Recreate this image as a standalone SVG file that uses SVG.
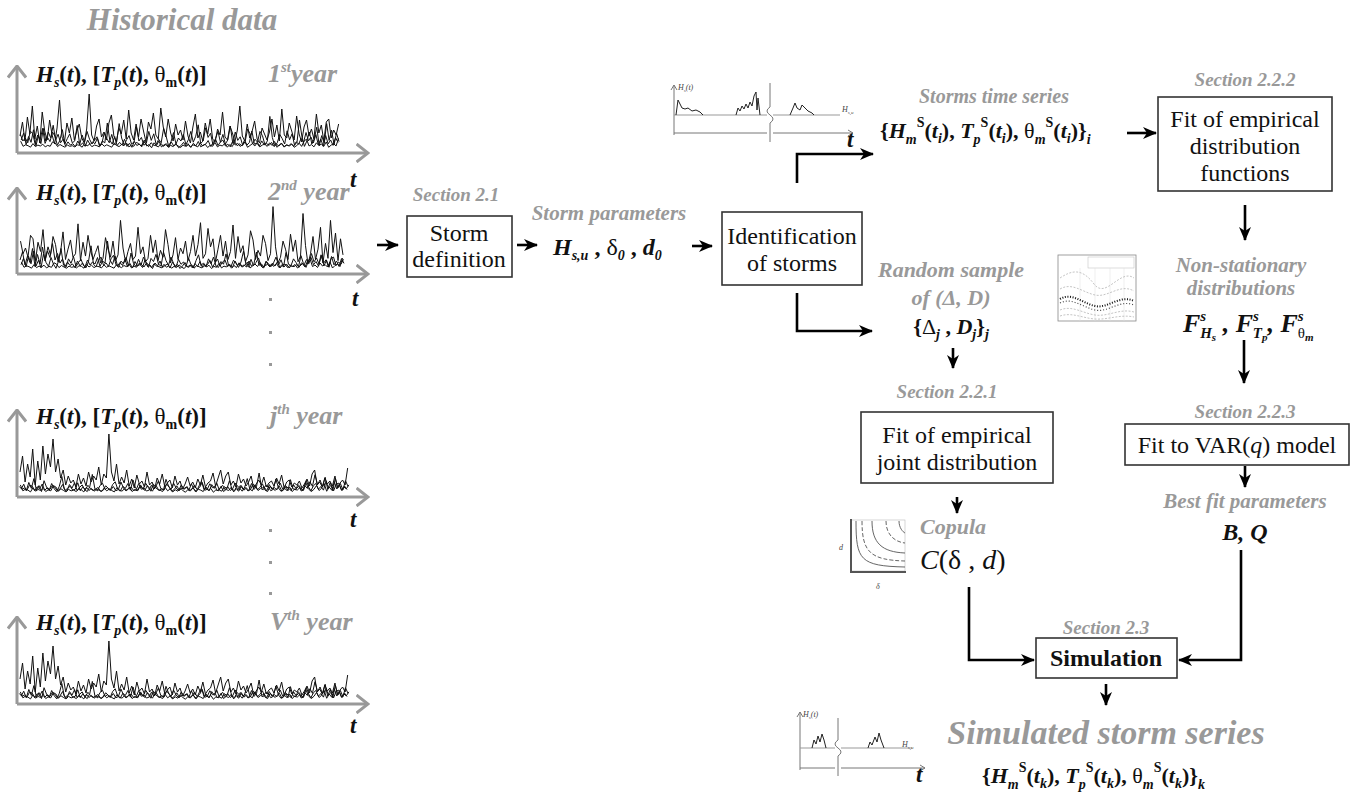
<svg xmlns="http://www.w3.org/2000/svg" width="1363" height="795" viewBox="0 0 1363 795">
<style>
.s{font-family:"Liberation Serif",serif;}
.g{fill:#999;font-weight:bold;font-style:italic;}
.sec{font-size:19px;text-anchor:middle;}
.cap{font-size:21px;}
.box{fill:#fff;stroke:#333;stroke-width:1.6;}
.bt{font-size:24px;fill:#111;text-anchor:middle;}
.conn{fill:none;stroke:#000;stroke-width:2.6;marker-end:url(#ah);}
.ax{fill:none;stroke:#999;stroke-width:3;marker-end:url(#gch);}
.sig{fill:none;stroke:#111;stroke-width:1;vector-effect:non-scaling-stroke;stroke-linejoin:round;}
.lab{font-size:23px;font-weight:bold;fill:#111;}
.yr{font-size:26px;}
.it{font-style:italic;}
.fx{font-size:22px;font-weight:bold;fill:#111;}
.sm{font-size:14px;}
.dot{fill:#999;}
.tiny{font-size:8px;fill:#444;font-style:italic;}
.thin{fill:none;stroke:#777;stroke-width:1;}
.bump{fill:none;stroke:#222;stroke-width:1;}
.mc{fill:none;stroke:#aaa;stroke-width:0.7;stroke-dasharray:2 1.5;}
.cc{fill:none;stroke:#555;stroke-width:0.9;}
</style>
<defs>
<marker id="ah" viewBox="0 0 14 12" refX="13" refY="6" markerWidth="14" markerHeight="12" markerUnits="userSpaceOnUse" orient="auto"><path d="M0,0 L14,6 L0,12 L4,6 Z" fill="#000"/></marker>
<marker id="gch" viewBox="0 0 14 20" refX="12.5" refY="10" markerWidth="14" markerHeight="20" markerUnits="userSpaceOnUse" orient="auto"><path d="M1,1 L12.5,10 L1,19" fill="none" stroke="#999" stroke-width="3"/></marker>
<polyline id="sA" class="sig" points="0,-14 1,-28 2,-9 3,-33 4,-16 5,-44 6,-11 7,-24 8,-7 9,-38 10,-19 11,-10 12,-30 13,-15 14,-6 15,-22 16,-50 17,-13 18,-8 19,-27 20,-17 21,-32 22,-10 23,-19 24,-26 25,-12 26,-7 27,-21 28,-56 29,-15 30,-9 31,-24 32,-31 33,-13 34,-18 35,-10 36,-27 37,-35 38,-14 39,-8 40,-22 41,-16 42,-30 43,-11 44,-40 45,-17 46,-10 47,-26 48,-13 49,-31 50,-19 51,-8 52,-28 53,-21 54,-37 55,-15 56,-11 57,-42 58,-23 59,-13 60,-31 61,-17 62,-9 63,-26 64,-15 65,-20 66,-10 67,-29 68,-14 69,-7 70,-23 71,-36 72,-12 73,-18 74,-9 75,-27 76,-16 77,-31 78,-11 79,-8 80,-21 81,-15 82,-38 83,-13 84,-10 85,-24 86,-17 87,-8 88,-20 89,-44 90,-14 91,-9 92,-26 93,-12 94,-19 95,-29 96,-11 97,-7 98,-22 99,-16 100,-10 101,-18 102,-31 103,-13 104,-25 105,-9 106,-41 107,-15 108,-12 109,-27 110,-19 111,-10 112,-34 113,-16 114,-8 115,-23 116,-30 117,-14 118,-21 119,-11 120,-36 121,-17 122,-25 123,-9 124,-28 125,-31 126,-12 127,-20 128,-15 129,-26"/>
<polyline id="sB" class="sig" points="0,-22 1,-38 2,-12 3,-30 4,-17 5,-45 6,-9 7,-33 8,-14 9,-48 10,-20 11,-40 12,-27 13,-55 14,-22 15,-35 16,-16 17,-24 18,-9 19,-18 20,-11 21,-14 22,-7 23,-20 24,-10 25,-16 26,-8 27,-22 28,-12 29,-18 30,-14 31,-27 32,-9 33,-20 34,-16 35,-60 36,-22 37,-13 38,-30 39,-10 40,-17 41,-11 42,-24 43,-8 44,-15 45,-6 46,-19 47,-10 48,-13 49,-7 50,-22 51,-9 52,-12 53,-5 54,-16 55,-10 56,-20 57,-7 58,-11 59,-14 60,-6 61,-18 62,-9 63,-13 64,-5 65,-10 66,-17 67,-8 68,-12 69,-6 70,-15 71,-9 72,-19 73,-7 74,-11 75,-13 76,-21 77,-8 78,-16 79,-24 80,-10 81,-18 82,-22 83,-9 84,-13 85,-7 86,-20 87,-11 88,-15 89,-8 90,-12 91,-18 92,-6 93,-10 94,-14 95,-9 96,-17 97,-7 98,-11 99,-13 100,-8 101,-16 102,-10 103,-19 104,-6 105,-12 106,-14 107,-7 108,-11 109,-9 110,-13 111,-6 112,-10 113,-15 114,-8 115,-20 116,-24 117,-9 118,-12 119,-7 120,-16 121,-10 122,-13 123,-8 124,-18 125,-6 126,-11 127,-14 128,-9 129,-26"/>
</defs>

<text id="title" x="182" y="30" class="s g" font-size="31" text-anchor="middle">Historical data</text>

<g id="panel-1">
<path class="ax" d="M17,153 L17,66"/>
<path class="ax" d="M17,153 L368,153"/>
<use href="#sA" transform="translate(20,150) scale(2.47,1)"/>
<use href="#sA" transform="translate(339,150) scale(-2.47,0.6)"/>
<use href="#sB" transform="translate(21.2,150) scale(2.46,0.45)"/>
<use href="#sB" transform="translate(338,149) scale(-2.46,0.3)"/>
<text x="36" y="82" class="s lab"><tspan class="it">H</tspan><tspan class="it sm" dy="5">s</tspan><tspan dy="-5">(</tspan><tspan class="it">t</tspan>), [<tspan class="it">T</tspan><tspan class="it sm" dy="5">p</tspan><tspan dy="-5">(</tspan><tspan class="it">t</tspan>), <tspan font-weight="normal">θ</tspan><tspan class="sm" dy="5">m</tspan><tspan dy="-5">(</tspan><tspan class="it">t</tspan>)]</text>
<text x="268" y="82" class="s g yr" font-style="normal">1<tspan class="it" font-size="15" dy="-10">st</tspan><tspan class="it" dy="10">year</tspan></text>
<text x="350" y="187" class="s lab it" font-size="26">t</text>
</g>

<g id="panel-2">
<path class="ax" d="M17,274 L17,188"/>
<path class="ax" d="M17,274 L368,274"/>
<use href="#sA" transform="translate(343,271) scale(-2.5,1.15)"/>
<use href="#sB" transform="translate(20,271) scale(2.5,0.5)"/>
<use href="#sA" transform="translate(21,271) scale(2.5,0.45)"/>
<use href="#sB" transform="translate(344,270) scale(-2.5,0.3)"/>
<text x="36" y="200" class="s lab"><tspan class="it">H</tspan><tspan class="it sm" dy="5">s</tspan><tspan dy="-5">(</tspan><tspan class="it">t</tspan>), [<tspan class="it">T</tspan><tspan class="it sm" dy="5">p</tspan><tspan dy="-5">(</tspan><tspan class="it">t</tspan>), <tspan font-weight="normal">θ</tspan><tspan class="sm" dy="5">m</tspan><tspan dy="-5">(</tspan><tspan class="it">t</tspan>)]</text>
<text x="268" y="200" class="s g yr" font-style="normal">2<tspan class="it" font-size="15" dy="-10">nd</tspan><tspan class="it" dy="10"> year</tspan></text>
<text x="352" y="306" class="s lab it" font-size="26">t</text>
</g>

<g id="panel-j">
<path class="ax" d="M17,497 L17,410"/>
<path class="ax" d="M17,497 L368,497"/>
<use href="#sB" transform="translate(20,494) scale(2.54,1)"/>
<use href="#sB" transform="translate(348,494) scale(-2.54,0.35)"/>
<use href="#sA" transform="translate(21.2,494) scale(2.54,0.35)"/>
<use href="#sA" transform="translate(347,493) scale(-2.54,0.25)"/>
<text x="36" y="424" class="s lab"><tspan class="it">H</tspan><tspan class="it sm" dy="5">s</tspan><tspan dy="-5">(</tspan><tspan class="it">t</tspan>), [<tspan class="it">T</tspan><tspan class="it sm" dy="5">p</tspan><tspan dy="-5">(</tspan><tspan class="it">t</tspan>), <tspan font-weight="normal">θ</tspan><tspan class="sm" dy="5">m</tspan><tspan dy="-5">(</tspan><tspan class="it">t</tspan>)]</text>
<text x="270" y="424" class="s g yr">j<tspan font-size="15" dy="-10">th</tspan><tspan dy="10"> year</tspan></text>
<text x="350" y="527" class="s lab it" font-size="26">t</text>
</g>

<g id="panel-V">
<path class="ax" d="M17,704 L17,617"/>
<path class="ax" d="M17,704 L368,704"/>
<use href="#sB" transform="translate(20,701) scale(2.54,1)"/>
<use href="#sB" transform="translate(348,701) scale(-2.54,0.35)"/>
<use href="#sA" transform="translate(21.2,701) scale(2.54,0.35)"/>
<use href="#sA" transform="translate(347,700) scale(-2.54,0.25)"/>
<text x="36" y="630" class="s lab"><tspan class="it">H</tspan><tspan class="it sm" dy="5">s</tspan><tspan dy="-5">(</tspan><tspan class="it">t</tspan>), [<tspan class="it">T</tspan><tspan class="it sm" dy="5">p</tspan><tspan dy="-5">(</tspan><tspan class="it">t</tspan>), <tspan font-weight="normal">θ</tspan><tspan class="sm" dy="5">m</tspan><tspan dy="-5">(</tspan><tspan class="it">t</tspan>)]</text>
<text x="270" y="630" class="s g yr">V<tspan font-size="15" dy="-10">th</tspan><tspan dy="10"> year</tspan></text>
<text x="350" y="733" class="s lab it" font-size="26">t</text>
</g>

<g id="ellipsis-dots">
<rect class="dot" x="269" y="298" width="3" height="3"/>
<rect class="dot" x="269" y="331" width="3" height="3"/>
<rect class="dot" x="269" y="363" width="3" height="3"/>
<rect class="dot" x="269" y="529" width="3" height="3"/>
<rect class="dot" x="269" y="561" width="3" height="3"/>
<rect class="dot" x="269" y="592" width="3" height="3"/>
</g>

<g id="storm-definition">
<text x="456" y="201" class="s g sec">Section 2.1</text>
<rect class="box" x="407" y="216" width="105" height="61"/>
<text x="459" y="241" class="s bt">Storm</text>
<text x="459" y="267" class="s bt">definition</text>
</g>

<g id="storm-parameters">
<text x="609" y="220" class="s g cap" text-anchor="middle">Storm parameters</text>
<text x="553" y="255" class="s" font-size="24" font-weight="bold" fill="#111"><tspan class="it">H</tspan><tspan class="it sm" dy="5">s,u</tspan><tspan dy="-5"> , </tspan><tspan font-weight="normal">δ</tspan><tspan class="it sm" dy="5">0</tspan><tspan dy="-5"> , </tspan><tspan class="it">d</tspan><tspan class="it sm" dy="5">0</tspan></text>
</g>

<g id="identification">
<rect class="box" x="722" y="212" width="140" height="73"/>
<text x="792" y="244" class="s bt">Identification</text>
<text x="792" y="271" class="s bt">of storms</text>
</g>

<g id="chart-storms">
<path class="thin" d="M674,135 L674,85 M671,90 L674,85 L677,90"/>
<path class="thin" d="M674,133 L767,133 M773,133 L853,133 M848,130 L853,133 L848,136"/>
<path d="M674,115 L767,115 M773,115 L840,115" fill="none" stroke="#999" stroke-width="1"/>
<path class="thin" d="M770,83 L770,107 Q764,111 770,115 Q776,119 770,123 L770,142"/>
<path class="bump" d="M676,115 L678,100 L680,104 L682,108 L685,109 L688,108 L692,111 L696,110 L700,112 L703,115"/>
<path class="bump" d="M736,115 L738,108 L740,111 L742,106 L744,109 L746,104 L748,108 L750,102 L752,106 L754,96 L756,92 L757,110 L758,98 L760,115"/>
<path class="bump" d="M790,115 L793,108 L795,103 L797,108 L800,110 L802,105 L805,108 L808,111 L812,113 L814,115"/>
<text x="678" y="90" class="s tiny">H<tspan font-size="5" dy="2">s</tspan><tspan dy="-2">(t)</tspan></text>
<text x="842" y="112" class="s tiny">H<tspan font-size="5" dy="2">s,u</tspan></text>
<text x="847" y="147" class="s lab it" font-size="13">t</text>
</g>

<g id="storms-time-series">
<text x="994" y="103" class="s g" font-size="20" text-anchor="middle">Storms time series</text>
<text x="880" y="138" class="s fx">{<tspan class="it">H</tspan><tspan class="it sm" dy="6">m</tspan><tspan class="sm" dy="-17">S</tspan><tspan dy="11">(</tspan><tspan class="it">t</tspan><tspan class="it sm" dy="5">i</tspan><tspan dy="-5">), </tspan><tspan class="it">T</tspan><tspan class="it sm" dy="6">p</tspan><tspan class="sm" dy="-17">S</tspan><tspan dy="11">(</tspan><tspan class="it">t</tspan><tspan class="it sm" dy="5">i</tspan><tspan dy="-5">), </tspan><tspan font-weight="normal">θ</tspan><tspan class="it sm" dy="6">m</tspan><tspan class="sm" dy="-17">S</tspan><tspan dy="11">(</tspan><tspan class="it">t</tspan><tspan class="it sm" dy="5">i</tspan><tspan dy="-5">)}</tspan><tspan class="it sm" dy="6">i</tspan></text>
</g>

<g id="fit-empirical-distribution">
<text x="1245" y="86" class="s g sec">Section 2.2.2</text>
<rect class="box" x="1158" y="97" width="174" height="94"/>
<text x="1245" y="127" class="s bt">Fit of empirical</text>
<text x="1245" y="154" class="s bt">distribution</text>
<text x="1245" y="181" class="s bt">functions</text>
</g>

<g id="chart-nonstationary">
<rect x="1058" y="255" width="78" height="66" fill="#fff" stroke="#888" stroke-width="0.8"/>
<rect x="1088" y="257" width="46" height="11" fill="none" stroke="#bbb" stroke-width="0.5"/>
<path d="M1080,268 L1080,321 M1095,268 L1095,321 M1110,268 L1110,321 M1124,268 L1124,321" stroke="#ddd" stroke-width="0.5"/>
<path class="mc" d="M1060,278 C1072,270 1082,268 1094,284 S1120,268 1134,278"/>
<path class="mc" d="M1060,289 C1072,282 1082,292 1095,295 S1120,283 1134,291"/>
<path d="M1060,299 C1072,292 1082,303 1095,306 S1120,294 1134,301" fill="none" stroke="#111" stroke-width="2" stroke-dasharray="1 1.6"/>
<path d="M1060,303 C1072,297 1082,307 1095,310 S1120,299 1134,305" fill="none" stroke="#444" stroke-width="1.2" stroke-dasharray="1 2"/>
<path class="mc" d="M1060,310 C1072,305 1082,313 1095,315 S1120,308 1134,312"/>
<path class="mc" d="M1060,316 C1072,312 1082,318 1095,319 S1120,314 1134,317"/>
</g>

<g id="nonstationary-distributions">
<text x="1241" y="272" class="s g cap" text-anchor="middle">Non-stationary</text>
<text x="1241" y="295" class="s g cap" text-anchor="middle">distributions</text>
<text x="1183" y="332" class="s" font-size="26" font-weight="bold" font-style="italic" fill="#111">F<tspan font-size="15" dy="-11">s</tspan><tspan font-size="15" dx="-6" dy="17">H</tspan><tspan font-size="11" dy="3">s</tspan><tspan dy="-9"> , F</tspan><tspan font-size="15" dy="-11">s</tspan><tspan font-size="15" dx="-6" dy="17">T</tspan><tspan font-size="11" dy="3">p</tspan><tspan dy="-9">, F</tspan><tspan font-size="15" dy="-11">s</tspan><tspan font-size="15" font-style="normal" font-weight="normal" dx="-6" dy="17">θ</tspan><tspan font-size="11" dy="3">m</tspan></text>
</g>

<g id="random-sample">
<text x="951" y="277" class="s g" font-size="22" text-anchor="middle">Random sample</text>
<text x="951" y="305" class="s g" font-size="22" text-anchor="middle">of (Δ, D)</text>
<text x="951" y="334" class="s fx" font-size="23" text-anchor="middle">{<tspan font-weight="normal">Δ</tspan><tspan class="it sm" dy="5">j</tspan><tspan dy="-5"> , </tspan><tspan class="it">D</tspan><tspan class="it sm" dy="5">j</tspan><tspan dy="-5">}</tspan><tspan class="it sm" dy="5">j</tspan></text>
</g>

<g id="fit-joint-distribution">
<text x="947" y="398" class="s g sec">Section 2.2.1</text>
<rect class="box" x="861" y="412" width="192" height="71"/>
<text x="957" y="443" class="s bt">Fit of empirical</text>
<text x="957" y="470" class="s bt">joint distribution</text>
</g>

<g id="chart-copula">
<rect x="851" y="520" width="54" height="51" fill="#fff" stroke="#bbb" stroke-width="0.6"/>
<path d="M851,519 L851,572 L906,572" fill="none" stroke="#555" stroke-width="2"/>
<path class="cc" d="M856,521 C856,560 860,566 905,567"/>
<path class="cc" d="M862,521 C862,552 870,560 905,561" stroke-dasharray="4 2"/>
<path class="cc" d="M872,521 C872,543 882,552 905,553"/>
<path class="cc" d="M886,521 C886,535 895,542 905,543" stroke-dasharray="4 2"/>
<path class="cc" d="M899,521 C899,528 903,532 905,533"/>
<text x="839" y="550" class="s tiny">d</text>
<text x="876" y="589" class="s tiny">δ</text>
</g>

<g id="copula">
<text x="920" y="534" class="s g" font-size="22">Copula</text>
<text x="920" y="569" class="s" font-size="28" fill="#111"><tspan class="it">C</tspan>(δ , <tspan class="it">d</tspan>)</text>
</g>

<g id="fit-var">
<text x="1245" y="418" class="s g sec">Section 2.2.3</text>
<rect class="box" x="1125" y="424" width="224" height="41"/>
<text x="1237" y="453" class="s bt">Fit to VAR(<tspan class="it">q</tspan>) model</text>
</g>

<g id="best-fit">
<text x="1245" y="508" class="s g" font-size="21" text-anchor="middle">Best fit parameters</text>
<text x="1245" y="540" class="s" font-size="24" font-weight="bold" font-style="italic" fill="#111" text-anchor="middle">B, Q</text>
</g>

<g id="simulation">
<text x="1106" y="634" class="s g sec">Section 2.3</text>
<rect class="box" x="1036" y="638" width="141" height="40"/>
<text x="1106" y="666" class="s bt" font-weight="bold">Simulation</text>
</g>

<g id="chart-simulated">
<path class="thin" d="M800,770 L800,712 M797,717 L800,712 L803,717"/>
<path class="thin" d="M800,768 L835,768 M841,768 L925,768 M920,765 L925,768 L920,771"/>
<path d="M800,748 L835,748 M841,748 L912,748" fill="none" stroke="#999" stroke-width="1"/>
<path class="thin" d="M838,718 L838,740 Q832,744 838,748 Q844,752 838,756 L838,776"/>
<path class="bump" d="M812,748 L814,740 L816,744 L818,736 L820,742 L822,734 L824,740 L826,748"/>
<path class="bump" d="M868,748 L870,742 L872,745 L875,737 L877,742 L879,733 L881,740 L884,748"/>
<text x="803" y="717" class="s tiny">H<tspan font-size="5" dy="2">s</tspan><tspan dy="-2">(t)</tspan></text>
<text x="902" y="747" class="s tiny">H<tspan font-size="5" dy="2">s,u</tspan></text>
<text x="916" y="782" class="s lab it" font-size="14">t</text>
</g>

<g id="simulated-storm-series">
<text x="1106" y="744" class="s g" font-size="34" text-anchor="middle">Simulated storm series</text>
<text x="982" y="783" class="s fx"><tspan>{</tspan><tspan class="it">H</tspan><tspan class="it sm" dy="6">m</tspan><tspan class="sm" dy="-17">S</tspan><tspan dy="11">(</tspan><tspan class="it">t</tspan><tspan class="it sm" dy="5">k</tspan><tspan dy="-5">), </tspan><tspan class="it">T</tspan><tspan class="it sm" dy="6">p</tspan><tspan class="sm" dy="-17">S</tspan><tspan dy="11">(</tspan><tspan class="it">t</tspan><tspan class="it sm" dy="5">k</tspan><tspan dy="-5">), </tspan><tspan font-weight="normal">θ</tspan><tspan class="it sm" dy="6">m</tspan><tspan class="sm" dy="-17">S</tspan><tspan dy="11">(</tspan><tspan class="it">t</tspan><tspan class="it sm" dy="5">k</tspan><tspan dy="-5">)}</tspan><tspan class="it sm" dy="6">k</tspan></text>
</g>

<g id="connectors">
<path class="conn" d="M377,245 L398,245"/>
<path class="conn" d="M517,245 L537,245"/>
<path class="conn" d="M692,246 L712,246"/>
<path class="conn" d="M797,183 L797,154 L873,154"/>
<path class="conn" d="M797,293 L797,331 L872,331"/>
<path class="conn" d="M1127,133 L1156,133"/>
<path class="conn" d="M1245,205 L1245,240"/>
<path class="conn" d="M953,348 L953,368"/>
<path class="conn" d="M1244,340 L1244,383"/>
<path class="conn" d="M957,497 L957,513"/>
<path class="conn" d="M1245,466 L1245,487"/>
<path class="conn" d="M969,587 L969,660 L1034,660"/>
<path class="conn" d="M1241,550 L1241,660 L1179,660"/>
<path class="conn" d="M1106,684 L1106,705"/>
</g>
</svg>
